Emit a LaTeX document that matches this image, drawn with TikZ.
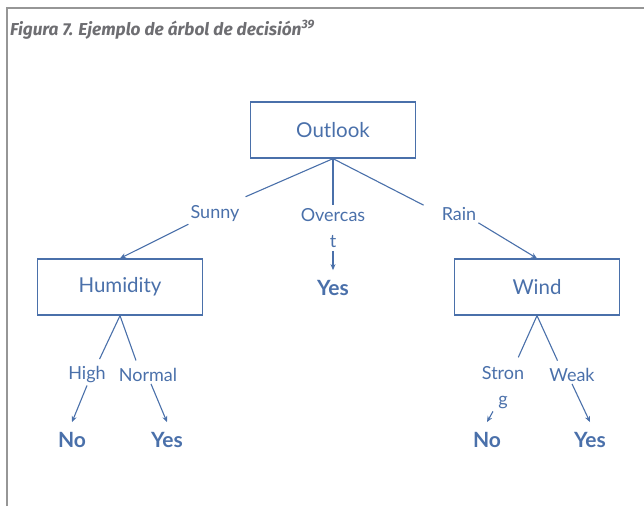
\documentclass[tikz,border=0pt]{standalone}
\usepackage{fontspec}
\setmainfont{Lato}
\newfontfamily\titlefont{Fira Sans}
\usetikzlibrary{arrows.meta}
\definecolor{treeblue}{RGB}{74,112,170}
\definecolor{framegray}{RGB}{150,150,150}
\definecolor{titlegray}{RGB}{110,110,114}
\begin{document}
\begin{tikzpicture}[x=1pt,y=-1pt]
\tikzstyle{every node}+=[text=treeblue]
\tikzstyle{attr}=[draw=treeblue, line width=1.3pt, minimum width=165pt, minimum height=56pt, font=\fontsize{20.5}{24}\selectfont]
\tikzstyle{branch}=[inner sep=2pt, align=center, font=\fontsize{18}{26}\selectfont]
\tikzstyle{leaf}=[inner xsep=2pt, inner ysep=10pt, font=\fontsize{21}{24}\selectfont\bfseries]
\tikzstyle{edge}=[draw=treeblue, line width=1.1pt]
\tikzstyle{arr}=[edge, -{Stealth[length=6pt,width=5pt]}]
\useasboundingbox (0,0) rectangle (644,506);
\draw [framegray, line width=2pt] (7,506) -- (7,8) -- (644,8);
\node (title) [anchor=base west, inner sep=0pt, text=titlegray, font=\titlefont\fontsize{17.3}{20}\selectfont\bfseries\itshape] at (10,35) {Figura 7. Ejemplo de árbol de decisión\textsuperscript{39}};
\node [attr] (outlook) at (333,130) {Outlook};
\node [attr] (humidity) at (120,287) {Humidity};
\node [attr] (wind) at (537,287) {Wind};
\node [branch] (sunny) at (215,214) {Sunny};
\node [branch, inner ysep=3pt] (overcast) at (333,228) {Overcas\\t};
\node [branch] (rain) at (459,214) {Rain};
\node [leaf] (yesO) at (333,288) {Yes};
\node [branch] (high) at (87,375) {High};
\node [branch] (normal) at (148,375) {Normal};
\node [branch] (strong) at (503,388) {Stron\\g};
\node [branch] (weak) at (572,375) {Weak};
\node [leaf] (noH) at (72,440) {No};
\node [leaf] (yesH) at (167,440) {Yes};
\node [leaf] (noW) at (487,440) {No};
\node [leaf] (yesW) at (590,440) {Yes};
\draw [edge] (outlook.south) -- ([shift={(4,-7)}]sunny.north east);
\draw [edge] (outlook.south) -- (overcast.north);
\draw [edge] (outlook.south) -- ([xshift=-16pt]rain.north west);
\draw [arr] (sunny.south west) -- (humidity.north);
\draw [arr] (overcast.south) -- (yesO.north);
\draw [arr] (rain.south east) -- (wind.north);
\draw [edge, shorten >=6pt] (humidity.south) -- ([xshift=10pt]high.north);
\draw [edge, shorten >=6pt] (humidity.south) -- ([xshift=-10pt]normal.north);
\draw [arr] (high.south) -- (noH.north);
\draw [arr] ([xshift=3pt]normal.south) -- (yesH.north);
\draw [edge, shorten >=8pt] (wind.south) -- ([xshift=12pt]strong.north);
\draw [edge, shorten >=6pt] (wind.south) -- ([xshift=-12pt]weak.north);
\draw [arr] ([xshift=-10pt]strong.south) -- (noW.north);
\draw [arr] (weak.south) -- (yesW.north);
\end{tikzpicture}
\end{document}
